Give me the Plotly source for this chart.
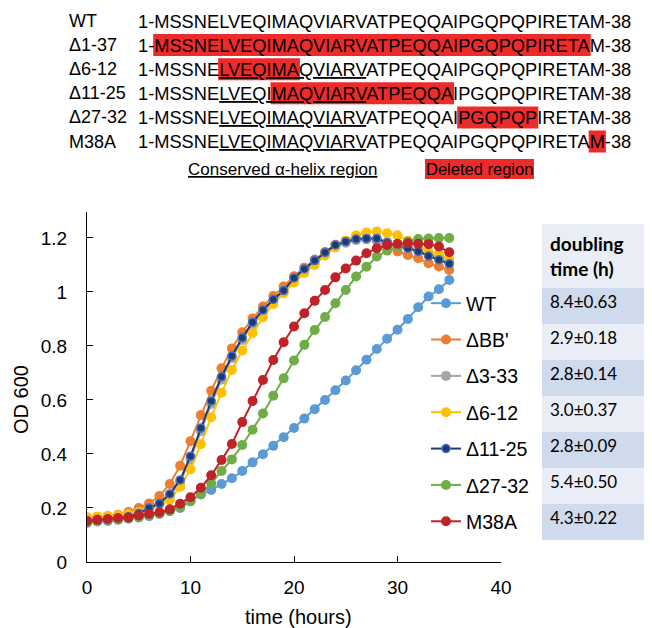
import plotly.graph_objects as go

# growth curves, OD600 read hourly
hours = list(range(36))

od_wt = [0.145, 0.15, 0.152, 0.156, 0.16, 0.165, 0.17, 0.178, 0.188, 0.2, 0.225, 0.25,
         0.267, 0.289, 0.31, 0.337, 0.369, 0.399, 0.43, 0.462, 0.496, 0.531, 0.566, 0.6,
         0.636, 0.672, 0.71, 0.749, 0.789, 0.827, 0.86, 0.9, 0.943, 0.983, 1.01, 1.044]
od_bb = [0.165, 0.168, 0.17, 0.175, 0.185, 0.2, 0.217, 0.244, 0.289, 0.356, 0.447, 0.544,
         0.634, 0.717, 0.791, 0.851, 0.902, 0.946, 0.985, 1.02, 1.058, 1.09, 1.12, 1.148,
         1.175, 1.19, 1.195, 1.195, 1.19, 1.165, 1.15, 1.137, 1.125, 1.106, 1.094, 1.081]
od_3_33 = [0.155, 0.158, 0.16, 0.164, 0.17, 0.18, 0.195, 0.212, 0.245, 0.295, 0.38, 0.485,
           0.585, 0.675, 0.755, 0.822, 0.88, 0.925, 0.965, 1.0, 1.045, 1.078, 1.11, 1.14,
           1.168, 1.182, 1.192, 1.195, 1.195, 1.185, 1.172, 1.165, 1.155, 1.14, 1.125, 1.11]
od_6_12 = [0.165, 0.168, 0.17, 0.173, 0.178, 0.185, 0.195, 0.21, 0.23, 0.279, 0.343, 0.436,
           0.536, 0.627, 0.711, 0.783, 0.847, 0.906, 0.955, 0.995, 1.035, 1.07, 1.1, 1.135,
           1.165, 1.19, 1.21, 1.22, 1.224, 1.217, 1.21, 1.19, 1.17, 1.15, 1.14, 1.12]
od_11_25 = [0.152, 0.155, 0.158, 0.162, 0.168, 0.18, 0.2, 0.217, 0.252, 0.304, 0.392, 0.496,
            0.596, 0.686, 0.763, 0.83, 0.888, 0.933, 0.972, 1.005, 1.052, 1.085, 1.116, 1.146,
            1.174, 1.186, 1.196, 1.198, 1.198, 1.183, 1.168, 1.162, 1.15, 1.133, 1.119, 1.104]
od_27_32 = [0.148, 0.152, 0.155, 0.158, 0.162, 0.166, 0.172, 0.18, 0.19, 0.205, 0.225, 0.252,
            0.291, 0.337, 0.38, 0.433, 0.49, 0.55, 0.616, 0.68, 0.746, 0.804, 0.859, 0.907,
            0.958, 1.007, 1.057, 1.093, 1.131, 1.153, 1.168, 1.186, 1.196, 1.198, 1.2, 1.2]
od_m38a = [0.152, 0.156, 0.159, 0.163, 0.165, 0.172, 0.178, 0.184, 0.195, 0.216, 0.24, 0.275,
           0.321, 0.378, 0.437, 0.518, 0.596, 0.674, 0.748, 0.814, 0.872, 0.921, 0.967, 1.007,
           1.054, 1.087, 1.116, 1.143, 1.162, 1.174, 1.178, 1.18, 1.178, 1.177, 1.168, 1.147]

strains = ["WT", "ΔBB'", "Δ3-33", "Δ6-12", "Δ11-25", "Δ27-32", "M38A"]
doubling = ["8.4±0.63", "2.9±0.18", "2.8±0.14", "3.0±0.37", "2.8±0.09", "5.4±0.50", "4.3±0.22"]

# sequence panel
sequence = "MSSNELVEQIMAQVIARVATPEQQAIPGQPQPIRETAM"
helix = (6, 18)  # conserved alpha-helix, residues
seq_labels = ["WT", "Δ1-37", "Δ6-12", "Δ11-25", "Δ27-32", "M38A"]
deleted = [None, (1, 37), (6, 12), (11, 25), (27, 32), (38, 38)]
show_helix = [False, False, True, True, True, True]

series = [od_wt, od_bb, od_3_33, od_6_12, od_11_25, od_27_32, od_m38a]
colors = ["#5B9BD5", "#ED7D31", "#A5A5A5", "#FFC000", "#1F3A73", "#70AD47", "#C0222A"]

# page body has an 8px margin, so the figure starts at (8, 8) of the window
OFF = 8
W, H = 652 - OFF, 628 - OFF
RED = "#EE2B2B"
FONT = "Liberation Sans, Arial, sans-serif"

# Arial advance widths and kerning (per 1000 em) for placing the red boxes
adv = {'1': 556, '-': 333, '3': 556, '8': 556, 'M': 833, 'S': 667, 'N': 722, 'E': 667,
       'L': 556, 'V': 667, 'Q': 778, 'I': 278, 'A': 667, 'R': 722, 'T': 611, 'P': 667,
       'G': 778}
kern = {'LV': -74, 'RV': -18, 'VA': -74, 'AT': -74, 'TA': -74}


def char_x(s, j, size):
    # left edge of character j in string s
    x = 0
    for k in range(j):
        x += adv.get(s[k], 600)
        if k + 1 < len(s):
            x += kern.get(s[k] + s[k + 1], 0)
    return x * size / 1000


def px(x):
    return (x - OFF) / W


def py(y):
    return 1 - (y - OFF) / H


fig = go.Figure()

for name, ys, col in zip(strains, series, colors):
    if name == "Δ11-25":
        marker = dict(size=8, color=col, line=dict(color="#4472C4", width=1.5))
    else:
        marker = dict(size=10, color=col, line=dict(width=0))
    fig.add_trace(go.Scatter(x=hours, y=ys, mode="lines+markers", name=name,
                             legendgroup=name, line=dict(color=col, width=2),
                             marker=marker))

row_fill = [["#CFDAEC", "#E9EDF6"] * 3 + ["#CFDAEC"]]
fig.add_trace(go.Table(
    domain=dict(x=[px(542), 1], y=[py(541), py(224)]),
    header=dict(values=["<b>doubling</b><br><b>time (h)</b>"], height=62, align="left",
                fill=dict(color="#E9EEF6"), line=dict(color="#E9EEF6", width=0),
                font=dict(family="Lato, sans-serif", size=19, color="#000000")),
    cells=dict(values=[doubling], height=36, align="left",
               fill=dict(color=row_fill), line=dict(color=row_fill, width=0),
               font=dict(family="Lato, sans-serif", size=17, color="#000000")),
))

# sequence lines, with red boxes behind the deleted residues
seq_size = 18.25
x_label, x_seq = 67, 138
for i, label in enumerate(seq_labels):
    yc = 21 + i * 24.1
    if show_helix[i]:
        a, b = helix
        body = sequence[:a - 1] + "<u>" + sequence[a - 1:b] + "</u>" + sequence[b:]
    else:
        body = sequence
    fig.add_annotation(x=px(x_label), y=py(yc), xref="paper", yref="paper", text=label,
                       showarrow=False, xanchor="left", yanchor="middle",
                       font=dict(family=FONT, size=18, color="#000000"))
    fig.add_annotation(x=px(x_seq), y=py(yc), xref="paper", yref="paper",
                       text="1-" + body + "-38", showarrow=False,
                       xanchor="left", yanchor="middle", borderpad=0, borderwidth=0,
                       font=dict(family=FONT, size=seq_size, color="#000000"))
    if deleted[i]:
        a, b = deleted[i]
        full = "1-" + sequence + "-38"
        x0 = x_seq + char_x(full, a + 1, seq_size)
        last = a + 1 + (b - a)
        x1 = x_seq + char_x(full, last, seq_size) + adv[full[last]] * seq_size / 1000
        fig.add_shape(type="rect", xref="paper", yref="paper", layer="below",
                      x0=px(x0 - 1), x1=px(x1 + 1), y0=py(yc + 11), y1=py(yc - 11),
                      fillcolor=RED, line=dict(width=0))

fig.add_annotation(x=px(186), y=py(169), xref="paper", yref="paper",
                   text="<u>Conserved α-helix region</u>", showarrow=False,
                   xanchor="left", yanchor="middle",
                   font=dict(family=FONT, size=17, color="#000000"))
fig.add_annotation(x=px(425), y=py(169), xref="paper", yref="paper",
                   text="Deleted region", showarrow=False, xanchor="left", yanchor="middle",
                   bgcolor=RED, borderpad=1, borderwidth=0,
                   font=dict(family=FONT, size=16.5, color="#000000"))

# axis titles
fig.add_annotation(x=px(21), y=py(400), xref="paper", yref="paper", text="OD 600",
                   textangle=-90, showarrow=False, xanchor="center", yanchor="middle",
                   font=dict(family=FONT, size=20, color="#000000"))
fig.add_annotation(x=px(298), y=py(617), xref="paper", yref="paper", text="time (hours)",
                   showarrow=False, xanchor="center", yanchor="middle",
                   font=dict(family=FONT, size=20, color="#000000"))

fig.update_layout(
    width=W, height=H,
    margin=dict(l=0, r=0, t=0, b=0),
    paper_bgcolor="white", plot_bgcolor="white",
    font=dict(family=FONT, size=19, color="#000000"),
    legend=dict(x=px(426), y=py(284), xanchor="left", yanchor="top",
                font=dict(size=19.5), tracegroupgap=8, bgcolor="rgba(0,0,0,0)",
                itemwidth=30),
    xaxis=dict(domain=[px(87), px(501)], range=[0, 40], dtick=10, showgrid=False,
               zeroline=False, showline=True, linecolor="#000000", linewidth=1,
               ticks="inside", ticklen=6, tickcolor="#000000", automargin=False,
               ticklabelstandoff=8),
    yaxis=dict(domain=[py(562), py(212)], range=[0, 1.296], tick0=0, dtick=0.2,
               showgrid=False, zeroline=False, showline=True, linecolor="#000000",
               linewidth=1, ticks="inside", ticklen=6, tickcolor="#000000",
               automargin=False, ticklabelstandoff=15),
)

fig.write_html("out.html")
